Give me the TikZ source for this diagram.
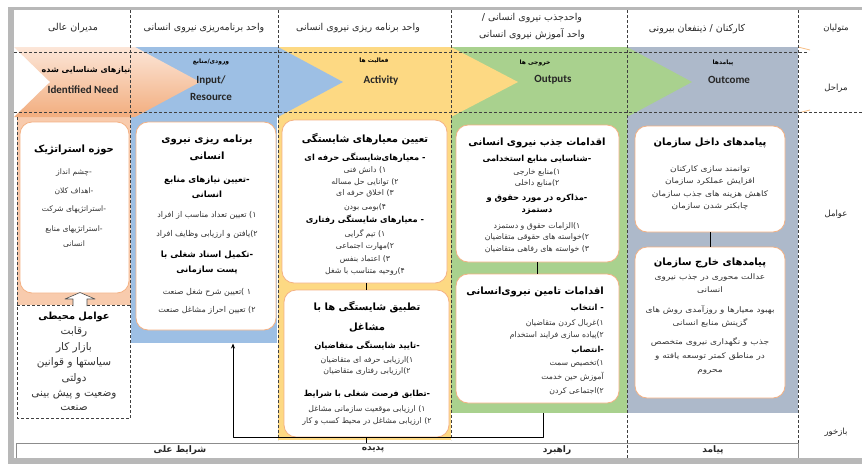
\documentclass[tikz,border=0pt]{standalone}
\usepackage{fontspec}
\setmainfont{Carlito}
\newfontfamily\fa[Script=Arabic]{DejaVu Sans}
\newfontfamily\faw[Script=Arabic,FakeStretch=1.18]{DejaVu Sans}
\TeXXeTstate=1
\newcommand\rtl[1]{\beginR#1\endR}
\newcommand\boxtitle[1]{{\fa\color{black}\bfseries\fontsize{10}{11}\selectfont\rtl{#1}}}
\newcommand\boxhead[1]{{\fa\color{black}\bfseries\fontsize{8.3}{11}\selectfont\rtl{#1}}}
\usetikzlibrary{arrows.meta}
\definecolor{peach}{HTML}{F8CBAD}
\definecolor{peachlt}{HTML}{FCE6D8}
\definecolor{peachdk}{HTML}{F2AD7E}
\definecolor{inblue}{HTML}{9DBFE4}
\definecolor{actyel}{HTML}{FDD983}
\definecolor{outgrn}{HTML}{A9D18E}
\definecolor{endgry}{HTML}{ADB9CA}
\definecolor{rim}{HTML}{F4B183}
\definecolor{pageshade}{HTML}{B8B8B8}
\tikzset{
	card/.style={draw=rim,fill=white,line width=.8pt,rounded corners=12pt,inner sep=0pt},
	sep/.style={dash pattern=on 3pt off 2pt,draw=black!75,line width=.6pt},
	hd/.style={font=\fa\fontsize{9.5}{17}\selectfont,align=center,text=black!85},
	stage/.style={font=\fa\bfseries\fontsize{6}{11}\selectfont,align=center},
	en/.style={font=\bfseries\fontsize{11}{17}\selectfont,align=center,text=black!85},
	body/.style={align=center,anchor=north,inner sep=0pt,text=black!80},
}
\begin{document}
\begin{tikzpicture}[x=1pt,y=-1pt,line join=round,>={Stealth[length=5pt,width=4pt]}]
	\useasboundingbox (0,0) rectangle (862,464);
	\def\bt{47}
	\def\bb{117}
	\def\bm{82}
	\fill[pageshade] (8,7) rectangle (862,464);
	\fill[white] (14,10) rectangle (862,458);
	% column fills
	\fill[peach] (17,\bb) rectangle (131,305);
	\fill[inblue] (131,\bb) rectangle (277,343);
	\fill[actyel] (278,\bb) rectangle (451,440);
	\fill[outgrn] (451,\bb) rectangle (627,413);
	\fill[endgry] (627,\bb) rectangle (798,413);
	% chevrons
	\fill[endgry] (627,\bt) rectangle (798,\bb);
	\draw[rim!70!actyel,line width=.8pt] (798,\bt)--(810,\bt+3) (798,\bb-4)--(810,\bb-7);
	\fill[outgrn] (451,\bt)--(627,\bt)--(692,\bm)--(627,\bb)--(451,\bb)--cycle;
	\fill[actyel] (278,\bt)--(451,\bt)--(518,\bm)--(451,\bb)--(278,\bb)--cycle;
	\fill[inblue] (130,\bt)--(278,\bt)--(343,\bm)--(278,\bb)--(130,\bb)--cycle;
	\shade[top color=peachlt,bottom color=peachdk] (14,\bt)--(135,\bt)--(200,\bm)--(135,\bb)--(14,\bb)--(50,\bm)--cycle;
	\fill[white] (14,55)--(50,\bm)--(14,110)--cycle;
	% grid
	\draw[sep] (14,52)--(808,52) (14,112)--(862,112);
	\draw[sep] (130,10)--(130,418) (278,10)--(278,440) (451,10)--(451,440)
		(627,10)--(627,458) (798,10)--(798,443);
	\draw[sep] (17,\bb)--(17,418)--(130,418) (17,305)--(130,305);
	\draw[black!45,line width=.7pt] (16,458)--(16,443)--(798,443)--(798,458);
	% cards
	\node[card,minimum width=109pt,minimum height=171pt] (b1) at (74.5,207.5) {};
	\node[card,minimum width=140pt,minimum height=208pt] (b2) at (206,226) {};
	\node[card,minimum width=165pt,minimum height=163pt] (b3) at (364.5,201.5) {};
	\node[card,minimum width=165pt,minimum height=147pt] (b4) at (366.5,363.5) {};
	\node[card,minimum width=163pt,minimum height=137pt] (b5) at (537.5,193.5) {};
	\node[card,minimum width=163pt,minimum height=129pt] (b6) at (537.5,338.5) {};
	\node[card,minimum width=150pt,minimum height=106pt] (b7) at (710,179) {};
	\node[card,minimum width=150pt,minimum height=151pt] (b8) at (710,322.5) {};
	% block arrow
	\draw[black!70,fill=white,line width=.6pt] (73,306)--(73,299)--(65,299)--(80,292.5)--(95,299)--(87,299)--(87,306);
	% links
	\coordinate (fb0) at (543,413);
	\coordinate (fb1) at (543,437);
	\coordinate (fb2) at (233,437);
	\coordinate (fb3) at (233,343.5);
	\coordinate (pd) at (b4.south|-0,443);
	\draw[line width=.8pt] (b4.north|-b3.south)--(b4.north) (b5.south)--(b6.north) (b7.south)--(b8.north)
		(b4.south)--(pd);
	\draw[line width=.8pt,->] (fb0)--(fb1)--(fb2)--(fb3);
	% header row
	\node[hd] (h1) at (73,28) {\rtl{مدیران عالی}};
	\node[hd] (h2) at (204,28) {\rtl{واحد برنامه‌ریزی نیروی انسانی}};
	\node[hd] (h3) at (358,28) {\rtl{واحد برنامه ریزی نیروی انسانی}};
	\node[hd] (h4) at (532,26.5) {\rtl{واحدجذب نیروی انسانی /}\\\rtl{واحد آموزش نیروی انسانی}};
	\node[hd] (h5) at (697,29) {\rtl{کارکنان / ذینفعان بیرونی}};
	\node[hd,font=\fa\fontsize{8.5}{11}\selectfont] (r1) at (836,28) {\rtl{متولیان}};
	\node[hd,font=\fa\fontsize{8.5}{11}\selectfont] (r2) at (836,88) {\rtl{مراحل}};
	\node[hd,font=\fa\fontsize{8.5}{11}\selectfont] (r3) at (836,214) {\rtl{عوامل}};
	\node[hd,font=\fa\fontsize{8.5}{11}\selectfont] (r4) at (836,432) {\rtl{بازخور}};
	% stage labels
	\node[stage,font=\fa\bfseries\fontsize{8}{11}\selectfont] (s1) at (86,70) {\rtl{نیازهای شناسایی شده}};
	\node[en] (e1) at (83,90) {Identified Need};
	\node[stage] (s2) at (211,62) {\rtl{ورودی/منابع}};
	\node[en] (e2) at (211,88.5) {Input/\\Resource};
	\node[stage] (s3) at (374,61) {\rtl{فعالیت ها}};
	\node[en] (e3) at (381,80) {Activity};
	\node[stage] (s4) at (535,63) {\rtl{خروجی ها}};
	\node[en] (e4) at (553,80) {Outputs};
	\node[stage] (s5) at (723,63) {\rtl{پیامدها}};
	\node[en] (e5) at (729,80) {Outcome};
	% card texts
	\node[body,font=\fa\fontsize{7.6}{19.5}\selectfont] (t1) at (74,144.5) {\boxtitle{حوزه استراتژیک}\\[2.5pt]\rtl{-چشم انداز}\\\rtl{-اهداف کلان}\\[-1.5pt]\rtl{-استراتژیهای شرکت}\\\rtl{-استراتژیهای منابع}\\[-4.5pt]\rtl{انسانی}};
	\node[body,font=\fa\fontsize{8}{17}\selectfont] (t2) at (207,134.5) {\boxtitle{برنامه ریزی نیروی}\\\boxtitle{انسانی}\\[6pt]{\color{black}\bfseries\fontsize{8.6}{11}\selectfont\rtl{-تعیین نیازهای منابع}}\\[-2pt]{\color{black}\bfseries\fontsize{8.6}{11}\selectfont\rtl{انسانی}}\\[3pt]\rtl{۱) تعیین تعداد مناسب از افراد}\\[2pt]\rtl{۲)یافتن و ارزیابی وظایف افراد}\\[4pt]{\color{black}\bfseries\fontsize{8.6}{11}\selectfont\rtl{-تکمیل اسناد شغلی با}}\\[-2pt]{\color{black}\bfseries\fontsize{8.6}{11}\selectfont\rtl{پست سازمانی}}\\[5pt]\rtl{۱ )تعیین شرح شغل صنعت}\\[1pt]\rtl{۲) تعیین احراز مشاغل صنعت}};
	\node[body,font=\fa\fontsize{7.8}{12.3}\selectfont] (t3) at (365,133.5) {\boxtitle{تعیین معیارهای شایستگی}\\[5.7pt]\boxhead{- معیارهای‌شایستگی حرفه ای}\\[-1pt]\rtl{۱) دانش فنی}\\\rtl{۲) توانایی حل مساله}\\[-1pt]\rtl{۳) اخلاق حرفه ای}\\[1.5pt]\rtl{۴)بومی بودن}\\[1pt]\boxhead{- معیارهای شایستگی رفتاری}\\[1.5pt]\rtl{۱) تیم گرایی}\\\rtl{۲)مهارت اجتماعی}\\\rtl{۳) اعتماد بنفس}\\\rtl{۴)روحیه متناسب با شغل}};
	\node[body,font=\fa\fontsize{7.8}{12}\selectfont] (t4) at (367,301) {\boxtitle{تطبیق شایستگی ها با}\\[8pt]\boxtitle{مشاغل}\\[6pt]\boxhead{-تایید شایستگی متقاضیان}\\[2pt]\rtl{۱)ارزیابی حرفه ای متقاضیان}\\[-1pt]\rtl{۲)ارزیابی رفتاری متقاضیان}\\[11pt]\boxhead{-تطابق فرصت شغلی با شرایط}\\[3pt]\rtl{۱) ارزیابی موقعیت سازمانی مشاغل}\\\rtl{۲) ارزیابی مشاغل در محیط کسب و کار}};
	\node[body,font=\fa\fontsize{7.8}{12}\selectfont] (t5) at (537,137.5) {\boxtitle{اقدامات جذب نیروی انسانی}\\[4pt]\boxhead{-شناسایی منابع استخدامی}\\[1pt]\rtl{۱)منابع خارجی}\\[-1pt]\rtl{۲)منابع داخلی}\\[3pt]\boxhead{-مذاکره در مورد حقوق و}\\\boxhead{دستمزد}\\[4pt]\rtl{۱)الزامات حقوق و دستمزد}\\[-1pt]\rtl{۲)خواسته های حقوقی متقاضیان}\\\rtl{۳) خواسته های رفاهی متقاضیان}};
	\node[body,font=\fa\fontsize{7.8}{13}\selectfont,align=right,anchor=north east] (t6) at (604,286.5) {\boxtitle{اقدامات تامین نیروی‌انسانی}\\[3pt]\boxhead{- انتخاب}\\[2pt]\rtl{۱)غربال کردن متقاضیان}\\[-1pt]\rtl{۲)پیاده سازی فرایند استخدام}\\[2pt]\boxhead{-انتصاب}\\\rtl{۱)تخصیص سمت}\\[1pt]\rtl{آموزش حین خدمت}\\[1pt]\rtl{۲)اجتماعی کردن}};
	\node[body,font=\faw\fontsize{7.6}{12.5}\selectfont] (t7) at (710,137.5) {\boxtitle{پیامدهای داخل سازمان}\\[13.5pt]\rtl{توانمند سازی کارکنان}\\\rtl{افزایش عملکرد سازمان}\\\rtl{کاهش هزینه های جذب سازمان}\\\rtl{چابکتر شدن سازمان}};
	\node[body,font=\faw\fontsize{7.6}{13.3}\selectfont] (t8) at (710,257.5) {\boxtitle{پیامدهای خارج سازمان}\\[0.7pt]\rtl{عدالت محوری در جذب نیروی}\\\rtl{انسانی}\\[6.7pt]\rtl{بهبود معیارها و روزآمدی روش های}\\\rtl{گزینش منابع انسانی}\\[5.7pt]\rtl{جذب و نگهداری نیروی متخصص}\\\rtl{در مناطق کمتر توسعه یافته و}\\[0.7pt]\rtl{محروم}};
	\node[body,font=\fa\fontsize{10.5}{15.5}\selectfont] (t9) at (74,311.5) {{\color{black}\bfseries\fontsize{9.8}{11}\selectfont\rtl{عوامل محیطی}}\\\rtl{رقابت}\\\rtl{بازار کار}\\\rtl{سیاستها و قوانین}\\\rtl{دولتی}\\\rtl{وضعیت و پیش بینی}\\[-1.5pt]\rtl{صنعت}};
	% bottom row
	\node[hd,font=\fa\bfseries\fontsize{9}{11}\selectfont] (c1) at (180,450) {\rtl{شرایط علی}};
	\node[hd,font=\fa\bfseries\fontsize{9}{11}\selectfont] (c2) at (373,450) {\rtl{پدیده}};
	\node[hd,font=\fa\bfseries\fontsize{9}{11}\selectfont] (c3) at (557,450) {\rtl{راهبرد}};
	\node[hd,font=\fa\bfseries\fontsize{9}{11}\selectfont] (c4) at (713,450) {\rtl{پیامد}};
\end{tikzpicture}
\end{document}
